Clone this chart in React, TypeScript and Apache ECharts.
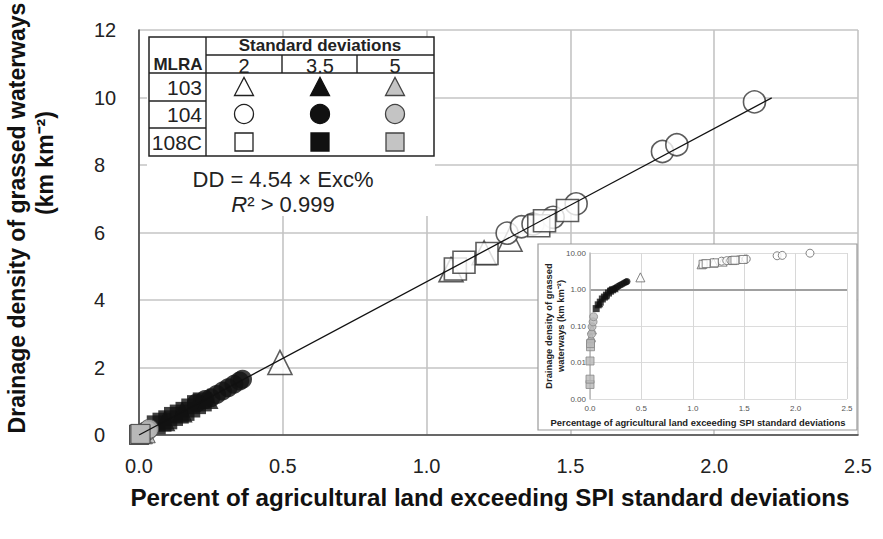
import React, { useEffect, useRef } from "react";
import * as echarts from "echarts";

// ---- data (x = % of agricultural land exceeding SPI SD, y = drainage density km km-2)
const sd2_103: number[][] = [[0.49, 2.15], [1.085, 4.9], [1.2, 5.4], [1.29, 5.8]];
const sd2_104: number[][] = [[1.28, 5.98], [1.33, 6.17], [1.37, 6.25], [1.44, 6.45], [1.52, 6.85], [1.82, 8.4], [1.87, 8.6], [2.14, 9.87]];
const sd2_108C: number[][] = [[1.1, 4.92], [1.13, 5.12], [1.21, 5.38], [1.39, 6.2], [1.41, 6.35], [1.49, 6.65]];

const sd35_108C: number[][] = [[0.06, 0.3], [0.08, 0.38], [0.1, 0.45], [0.12, 0.55], [0.14, 0.62], [0.16, 0.7], [0.18, 0.8], [0.2, 0.9], [0.22, 0.98]];
const sd35_104: number[][] = [[0.2, 0.95], [0.23, 1.05], [0.25, 1.1], [0.27, 1.2], [0.29, 1.3], [0.31, 1.4], [0.33, 1.5], [0.35, 1.6], [0.36, 1.65]];
const sd35_103: number[][] = [[0.09, 0.42], [0.15, 0.68], [0.24, 1.08]];

const sd5_103: number[][] = [[0.01, 0.05], [0.02, 0.08]];
const sd5_104: number[][] = [[0.01, 0.038], [0.015, 0.06], [0.02, 0.095], [0.03, 0.13], [0.035, 0.18]];
const sd5_108C: number[][] = [[0.0, 0.0025], [0.0, 0.0035], [0.0, 0.011], [0.005, 0.027], [0.005, 0.033]];

// regression line DD = 4.54 × Exc% (end points as drawn)
const trendLine: number[][] = [[0.0, 0.0], [2.2, 9.99]];

const xTicksMain = { min: 0, max: 2.5, interval: 0.5 };
const yTicksMain = { min: 0, max: 12, interval: 2 };
const yLogInset = { min: 0.001, max: 10 };

const FONT = '"Liberation Sans", Arial, sans-serif';

type Style = "open" | "black" | "gray";

function scatter(name: string, data: number[][], symbol: string, style: Style, inset: boolean): any {
  const idx = inset ? 1 : 0;
  let itemStyle: any;
  let size: number;
  if (style === "open") {
    itemStyle = { color: "#ffffff", borderColor: inset ? "#666" : "#333", borderWidth: inset ? 1 : 1.6 };
    size = inset ? 8 : 22;
  } else if (style === "black") {
    itemStyle = { color: "#111", borderColor: "#111", borderWidth: 0 };
    size = inset ? 7 : 19;
  } else {
    itemStyle = { color: "#b8b8b8", borderColor: inset ? "#888" : "#444", borderWidth: 1 };
    size = inset ? 8 : 19;
  }
  if (symbol === "triangle") size = size + (inset ? 1 : 2);
  return {
    name,
    type: "scatter",
    xAxisIndex: idx,
    yAxisIndex: idx,
    data,
    symbol,
    symbolSize: size,
    itemStyle,
    silent: true,
    z: inset ? 6 : 2,
  };
}

export default function App() {
  const ref = useRef<HTMLDivElement>(null);
  useEffect(() => {
    if (!ref.current) return;
    const chart = echarts.init(ref.current, undefined, { renderer: "svg" });

    const groups: [string, number[][], string, Style][] = [
      ["103-2", sd2_103, "triangle", "open"],
      ["104-2", sd2_104, "circle", "open"],
      ["108C-2", sd2_108C, "rect", "open"],
      ["108C-3.5", sd35_108C, "rect", "black"],
      ["104-3.5", sd35_104, "circle", "black"],
      ["103-3.5", sd35_103, "triangle", "black"],
      ["103-5", sd5_103, "triangle", "gray"],
      ["104-5", sd5_104, "circle", "gray"],
      ["108C-5", sd5_108C, "rect", "gray"],
    ];

    const series: any[] = [];
    groups.forEach((g) => series.push(scatter(g[0], g[1], g[2], g[3], false)));
    series.push({
      name: "trend",
      type: "line",
      xAxisIndex: 0,
      yAxisIndex: 0,
      data: trendLine,
      showSymbol: false,
      symbol: "none",
      lineStyle: { color: "#111", width: 1.3 },
      silent: true,
      z: 3,
    });
    groups.forEach((g, i) => {
      const s = scatter(g[0] + "-inset", g[1], g[2], g[3], true);
      if (i === 0) {
        s.markLine = {
          silent: true,
          symbol: "none",
          label: { show: false },
          lineStyle: { color: "#a0a0a0", width: 2, type: "solid" },
          data: [{ yAxis: 1 }],
          z: 5,
        };
      }
      series.push(s);
    });

    // legend table geometry
    const colX = [244, 320, 395];
    const rowY = [87, 114, 142];
    const symbolsRow = ["triangle", "circle", "rect"];
    const fills = ["#ffffff", "#111111", "#c4c4c4"];
    const strokes = ["#222", "#111", "#444"];
    const legendGraphics: any[] = [];
    rowY.forEach((cy, r) => {
      colX.forEach((cx, c) => {
        const style = { fill: fills[c], stroke: strokes[c], lineWidth: 1.3 };
        if (symbolsRow[r] === "triangle") {
          legendGraphics.push({ type: "polygon", z: 3, shape: { points: [[cx - 9.5, cy + 8.5], [cx + 9.5, cy + 8.5], [cx, cy - 9.5]] }, style });
        } else if (symbolsRow[r] === "circle") {
          legendGraphics.push({ type: "circle", z: 3, shape: { cx, cy, r: 9.5 }, style });
        } else {
          legendGraphics.push({ type: "rect", z: 3, shape: { x: cx - 9, y: cy - 9, width: 18, height: 18 }, style });
        }
      });
    });
    const line = (x1: number, y1: number, x2: number, y2: number) => ({
      type: "line",
      z: 3,
      shape: { x1, y1, x2, y2 },
      style: { stroke: "#222", lineWidth: 1.4 },
    });
    const txt = (text: string, x: number, y: number, fontSize: number, extra: any = {}) => ({
      type: "text",
      z: 3,
      x,
      y,
      style: {
        text,
        fontSize,
        fontFamily: FONT,
        fill: "#222",
        align: "center",
        verticalAlign: "middle",
        ...extra,
      },
    });

    const graphic: any[] = [
      // white area behind table and equation
      { type: "rect", z: 1, shape: { x: 147, y: 37, width: 288, height: 179 }, style: { fill: "#ffffff" } },
      { type: "rect", z: 3, shape: { x: 149, y: 37, width: 285, height: 119 }, style: { fill: "none", stroke: "#222", lineWidth: 1.5 } },
      line(206, 55, 434, 55),
      line(149, 73, 434, 73),
      line(149, 101, 206, 101),
      line(149, 128, 206, 128),
      line(206, 37, 206, 156),
      line(282, 55, 282, 73),
      line(357, 55, 357, 73),
      txt("Standard deviations", 320, 45.5, 17, { fontWeight: "bold" }),
      txt("MLRA", 178, 64.5, 17, { fontWeight: "bold" }),
      txt("2", 244, 65.5, 20),
      txt("3.5", 320, 65.5, 20),
      txt("5", 395, 65.5, 20),
      txt("103", 202, 87, 21, { align: "right" }),
      txt("104", 202, 114, 21, { align: "right" }),
      txt("108C", 202, 142, 21, { align: "right" }),
      ...legendGraphics,
      txt("DD = 4.54 × Exc%", 283, 179, 22),
      txt("{i|R}{n|² > 0.999}", 283, 204, 22, {
        rich: {
          i: { fontStyle: "italic", fontSize: 22, fontFamily: FONT, fill: "#222" },
          n: { fontSize: 22, fontFamily: FONT, fill: "#222" },
        },
      }),
      // main axis titles
      txt("Percent of agricultural land exceeding SPI standard deviations", 490, 497, 24.2, { fontWeight: "bold", fill: "#111" }),
      { ...txt("Drainage density of grassed waterways", 17, 218, 23, { fontWeight: "bold", fill: "#111" }), rotation: Math.PI / 2 },
      { ...txt("(km km⁻²)", 45, 163, 23, { fontWeight: "bold", fill: "#111" }), rotation: Math.PI / 2 },
      // inset box
      { type: "rect", z: 4, shape: { x: 538, y: 244, width: 319, height: 186 }, style: { fill: "#ffffff", stroke: "#9a9a9a", lineWidth: 1.2 } },
      { ...txt("Percentage of agricultural land exceeding SPI standard deviations", 698, 422, 9.4, { fontWeight: "bold", fill: "#222" }), z: 7 },
      { ...txt("Drainage density of grassed", 548, 326, 9.4, { fontWeight: "bold", fill: "#222" }), rotation: Math.PI / 2, z: 7 },
      { ...txt("waterways (km km⁻²)", 560, 326, 9.4, { fontWeight: "bold", fill: "#222" }), rotation: Math.PI / 2, z: 7 },
    ];

    const option: any = {
      animation: false,
      textStyle: { fontFamily: FONT },
      grid: [
        { left: 139, top: 30, width: 719, height: 405, show: false },
        { left: 590, top: 253, width: 257, height: 146, show: false },
      ],
      xAxis: [
        {
          gridIndex: 0,
          type: "value",
          ...xTicksMain,
          axisLine: { show: true, onZero: false, lineStyle: { color: "#444", width: 1.6 } },
          axisTick: { show: false },
          splitLine: { show: true, lineStyle: { color: "#c4c4c4", width: 1.6 } },
          axisLabel: { formatter: (v: number) => v.toFixed(1), fontSize: 20, color: "#222", margin: 21, fontFamily: FONT },
          z: 0,
        },
        {
          gridIndex: 1,
          type: "value",
          ...xTicksMain,
          axisLine: { show: false },
          axisTick: { show: false },
          splitLine: { show: true, lineStyle: { color: "#d8d8d8", width: 1 } },
          axisLabel: { formatter: (v: number) => v.toFixed(1), fontSize: 8, color: "#555", margin: 5, fontFamily: FONT },
          z: 5,
        },
      ],
      yAxis: [
        {
          gridIndex: 0,
          type: "value",
          ...yTicksMain,
          axisLine: { show: true, onZero: false, lineStyle: { color: "#444", width: 1.6 } },
          axisTick: { show: false },
          splitLine: { show: true, lineStyle: { color: "#c4c4c4", width: 1.6 } },
          axisLabel: { fontSize: 20, color: "#222", align: "left", margin: 45, fontFamily: FONT },
          z: 0,
        },
        {
          gridIndex: 1,
          type: "log",
          logBase: 10,
          ...yLogInset,
          axisLine: { show: true, onZero: false, lineStyle: { color: "#b8b8b8", width: 1.5 } },
          axisTick: { show: false },
          splitLine: { show: true, lineStyle: { color: "#dcdcdc", width: 1 } },
          axisLabel: { formatter: (v: number) => v.toFixed(2), fontSize: 8, color: "#555", margin: 4, fontFamily: FONT },
          z: 5,
        },
      ],
      series,
      graphic,
    };

    chart.setOption(option);
    return () => chart.dispose();
  }, []);

  return (
    <div
      ref={ref}
      style={{ position: "fixed", left: 0, top: 0, width: 883, height: 539, background: "#ffffff" }}
    />
  );
}
